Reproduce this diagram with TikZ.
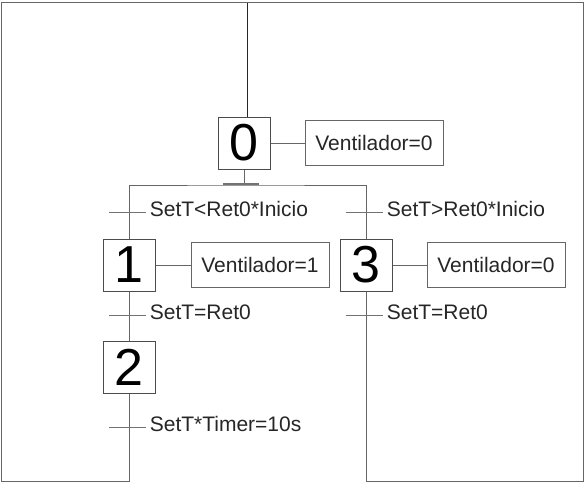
\documentclass[tikz,border=0pt]{standalone}
\usepackage{fontspec}
\setmainfont{Liberation Sans}
\usetikzlibrary{positioning}
\tikzset{
  etapa/.style={draw=black!70, line width=1pt, minimum width=52pt, minimum height=52pt, inner sep=0pt, font=\fontsize{52}{52}\selectfont},
  accion/.style={draw=black!60, line width=1pt, minimum width=138pt, minimum height=45pt, inner sep=0pt, font=\fontsize{21}{24}\selectfont, text=black!85},
  enlace/.style={draw=black!60, line width=1pt},
  marca/.style={draw=black!55, line width=1pt},
  condicion/.style={right, font=\fontsize{21}{24}\selectfont, text=black!85, yshift=3pt},
}
\begin{document}
\begin{tikzpicture}[x=1pt,y=-1pt]
  \useasboundingbox (0,0) rectangle (587,482);
  % etapas
  \node[etapa] (s0) at (244,143) {0};
  \node[etapa] (s1) at (129,265) {1};
  \node[etapa] (s3) at (366,265) {3};
  \node[etapa, below=49pt of s1] (s2) {2};
  % acciones
  \node[accion, right=34pt of s0] (a0) {Ventilador=0};
  \node[accion, right=35pt of s1] (a1) {Ventilador=1};
  \node[accion, right=34pt of s3] (a3) {Ventilador=0};
  \draw[enlace] (s0) -- (a0);
  \draw[enlace] (s1) -- (a1);
  \draw[enlace] (s3) -- (a3);
  % puntos auxiliares
  \coordinate (ent) at (247,2);
  \coordinate (div) at (244,185);
  \coordinate (tl) at (1,2);
  \coordinate (tr) at (583,2);
  \coordinate (bl) at (1,481);
  \coordinate (br) at (583,481);
  \coordinate (t1) at (129,212);
  \coordinate (t3) at (366,212);
  \coordinate (t2) at (129,315);
  \coordinate (t4) at (366,315);
  \coordinate (t5) at (129,427);
  % enlaces
  \draw[enlace, draw=black!85] (ent) -- (ent |- s0.north);
  \draw[enlace] (s0) -- (div);
  \draw[enlace] (s1) |- (div) -| (s3);
  \draw[marca, line width=1.2pt] ([xshift=-21pt,yshift=1pt]div) -- ([xshift=15pt,yshift=1pt]div);
  \draw[enlace] (s1) -- (s2);
  \draw[enlace] (s2) -- (s2 |- bl) -- (bl) -- (tl) -- (tr) -- (br) -- (s3 |- br) -- (s3);
  % receptividades
  \draw[marca] ([xshift=-20pt]t1) -- ([xshift=17pt]t1) node[condicion] (c1) {SetT<Ret0*Inicio};
  \draw[marca] ([xshift=-20pt]t3) -- ([xshift=17pt]t3) node[condicion] (c3) {SetT>Ret0*Inicio};
  \draw[marca] ([xshift=-20pt]t2) -- ([xshift=17pt]t2) node[condicion] (c2) {SetT=Ret0};
  \draw[marca] ([xshift=-20pt]t4) -- ([xshift=17pt]t4) node[condicion] (c4) {SetT=Ret0};
  \draw[marca] ([xshift=-20pt]t5) -- ([xshift=17pt]t5) node[condicion] (c5) {SetT*Timer=10s};
\end{tikzpicture}
\end{document}
